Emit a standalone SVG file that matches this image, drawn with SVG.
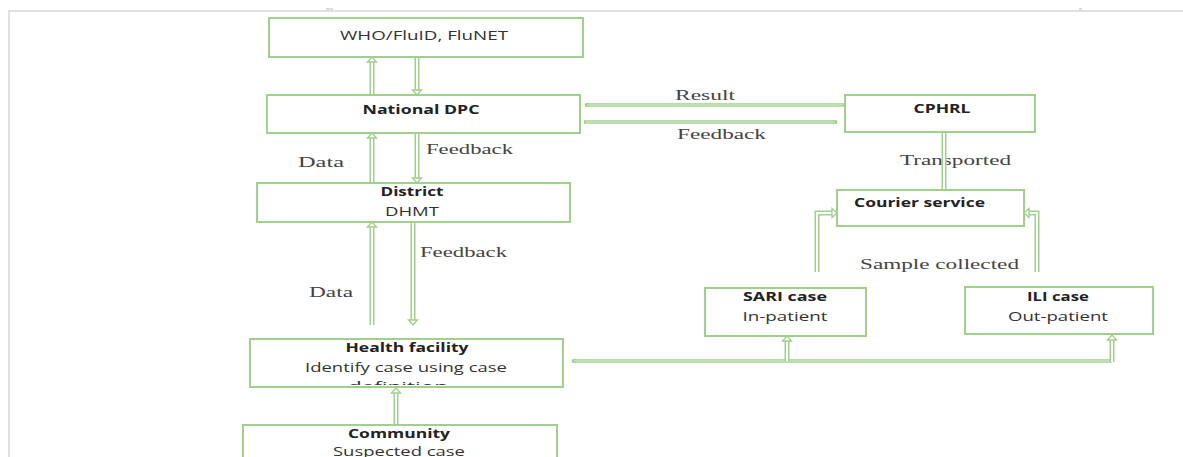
<svg xmlns="http://www.w3.org/2000/svg" width="1183" height="457" viewBox="0 0 1183 457">
<style>
.box{fill:#fff;stroke:#9fd08c;stroke-width:2}
.t{font-family:"Open Sans","Liberation Sans",sans-serif;font-size:12.5px;fill:#333;text-anchor:middle}
.b{font-weight:bold;fill:#222}
.s{font-family:"Liberation Serif","Times New Roman",serif;font-size:14px;fill:#444}
.dO{fill:none;stroke:#9fd08c;stroke-width:5}
.dI{fill:none;stroke:#fff;stroke-width:2}
.hd{fill:#fff;stroke:#9fd08c;stroke-width:1.3;stroke-linejoin:miter}
.ln{fill:none;stroke:#9fd08c;stroke-width:3.5}
.lnI{fill:none;stroke:#dcefd3;stroke-width:1.2}
.frame{stroke:#d6d6d6;stroke-width:1.5;fill:none}
</style>
<defs>
<clipPath id="hfClip"><rect x="250" y="339" width="313" height="46"/></clipPath>
<marker id="ah" markerWidth="6" markerHeight="6" refX="4" refY="3" orient="auto" markerUnits="userSpaceOnUse"><path d="M0,0.5 L5,3 L0,5.5 Z" fill="#9fd08c"/></marker>
</defs>
<rect width="1183" height="457" fill="#fff"/>
<g id="frame">
<path class="frame" d="M9,457 V11 H1183"/>
<path d="M326,9 H333 M1079,9 H1082" stroke="#bbb" stroke-width="1"/>
</g>

<g id="connectors">
<!-- WHO <-> National -->
<path class="dO" d="M372,95 V62"/><path class="dI" d="M372,95 V62"/><path class="hd" d="M367.5,62 L372,57 L376.5,62 Z"/>
<path class="dO" d="M417,57 V90"/><path class="dI" d="M417,57 V90"/><path class="hd" d="M412.5,90 L417,95 L421.5,90 Z"/>
<!-- National <-> District -->
<path class="dO" d="M372,183 V138"/><path class="dI" d="M372,183 V138"/><path class="hd" d="M367.5,138 L372,133 L376.5,138 Z"/>
<path class="dO" d="M417,133 V178"/><path class="dI" d="M417,133 V178"/><path class="hd" d="M412.5,178 L417,183 L421.5,178 Z"/>
<!-- District <-> Health facility -->
<path class="dO" d="M372,325 V227"/><path class="dI" d="M372,325 V227"/><path class="hd" d="M367.5,227 L372,222 L376.5,227 Z"/>
<path class="dO" d="M413,222 V320"/><path class="dI" d="M413,222 V320"/><path class="hd" d="M408.5,320 L413,325 L417.5,320 Z"/>
<!-- Community -> Health facility -->
<path class="dO" d="M396,425 V393"/><path class="dI" d="M396,425 V393"/><path class="hd" d="M391.5,393 L396,388 L400.5,393 Z"/>
<!-- Health facility line to SARI / ILI -->
<path class="ln" d="M1112,361 H572" marker-end="url(#ah)"/><path class="lnI" d="M1110,361 H574"/>
<path class="dO" d="M787,361 V341"/><path class="dI" d="M787,361 V341"/><path class="hd" d="M782.5,341 L787,336 L791.5,341 Z"/>
<path class="dO" d="M1112,362 V340"/><path class="dI" d="M1112,362 V340"/><path class="hd" d="M1107.5,340 L1112,335 L1116.5,340 Z"/>
<!-- Sample collected to courier -->
<path class="dO" d="M817,272 V213 H832"/><path class="dI" d="M817,272 V213 H832"/><path class="hd" d="M832,208.5 L837,213 L832,217.5 Z"/>
<path class="dO" d="M1037,272 V213 H1029"/><path class="dI" d="M1037,272 V213 H1029"/><path class="hd" d="M1029,208.5 L1024,213 L1029,217.5 Z"/>
<!-- Result / Feedback -->
<path class="ln" d="M845,105 H585" marker-end="url(#ah)"/><path class="lnI" d="M843,105 H587"/>
<path class="ln" d="M584,122 H837" marker-end="url(#ah)"/><path class="lnI" d="M586,122 H835"/>
</g>

<g id="labels">
<text class="s" x="675" y="100" textLength="60" lengthAdjust="spacingAndGlyphs">Result</text>
<text class="s" x="677" y="139" textLength="89" lengthAdjust="spacingAndGlyphs">Feedback</text>
<text class="s" x="298" y="167" textLength="46" lengthAdjust="spacingAndGlyphs">Data</text>
<text class="s" x="426" y="154" textLength="87" lengthAdjust="spacingAndGlyphs">Feedback</text>
<text class="s" x="420" y="257" textLength="87" lengthAdjust="spacingAndGlyphs">Feedback</text>
<text class="s" x="309" y="297" textLength="44" lengthAdjust="spacingAndGlyphs">Data</text>
<text class="s" x="900" y="165" textLength="111" lengthAdjust="spacingAndGlyphs">Transported</text>
<text class="s" x="860" y="269" textLength="159" lengthAdjust="spacingAndGlyphs">Sample collected</text>
</g>

<g id="transported-connector">
<path class="dO" d="M944,132 V190"/><path class="dI" d="M944,132 V190"/>
</g>

<g id="who">
<rect class="box" x="269" y="18" width="314" height="39"/>
<text class="t" x="424" y="40" textLength="168" lengthAdjust="spacingAndGlyphs">WHO/FluID, FluNET</text>
</g>
<g id="national">
<rect class="box" x="267" y="95" width="313" height="38"/>
<text class="t b" x="421" y="114" textLength="117" lengthAdjust="spacingAndGlyphs">National DPC</text>
</g>
<g id="cphrl">
<rect class="box" x="845" y="95" width="190" height="37"/>
<text class="t b" x="942" y="113" textLength="57" lengthAdjust="spacingAndGlyphs">CPHRL</text>
</g>
<g id="district">
<rect class="box" x="257" y="183" width="313" height="39"/>
<text class="t b" x="412" y="196" textLength="63" lengthAdjust="spacingAndGlyphs">District</text>
<text class="t" x="412" y="216" textLength="54" lengthAdjust="spacingAndGlyphs">DHMT</text>
</g>
<g id="courier">
<rect class="box" x="837" y="190" width="187" height="36"/>
<text class="t b" x="854" y="207" style="text-anchor:start" textLength="131" lengthAdjust="spacingAndGlyphs">Courier service</text>
</g>
<g id="sari">
<rect class="box" x="705" y="288" width="161" height="48"/>
<text class="t b" x="785" y="301" textLength="84" lengthAdjust="spacingAndGlyphs">SARI case</text>
<text class="t" x="785" y="321" textLength="85" lengthAdjust="spacingAndGlyphs">In-patient</text>
</g>
<g id="ili">
<rect class="box" x="965" y="287" width="188" height="47"/>
<text class="t b" x="1058" y="301" textLength="62" lengthAdjust="spacingAndGlyphs">ILI case</text>
<text class="t" x="1058" y="321" textLength="100" lengthAdjust="spacingAndGlyphs">Out-patient</text>
</g>
<g id="health-facility">
<rect class="box" x="250" y="339" width="313" height="48"/>
<text class="t b" x="407" y="352" textLength="123" lengthAdjust="spacingAndGlyphs">Health facility</text>
<g clip-path="url(#hfClip)">
<text class="t" x="406" y="372" textLength="202" lengthAdjust="spacingAndGlyphs">Identify case using case</text>
<text class="t" x="398" y="391" textLength="100" lengthAdjust="spacingAndGlyphs">definition</text>
</g>
</g>
<g id="community">
<rect class="box" x="243" y="425" width="314" height="50"/>
<text class="t b" x="399" y="438" textLength="102" lengthAdjust="spacingAndGlyphs">Community</text>
<text class="t" x="399" y="456" textLength="132" lengthAdjust="spacingAndGlyphs">Suspected case</text>
</g>
</svg>
